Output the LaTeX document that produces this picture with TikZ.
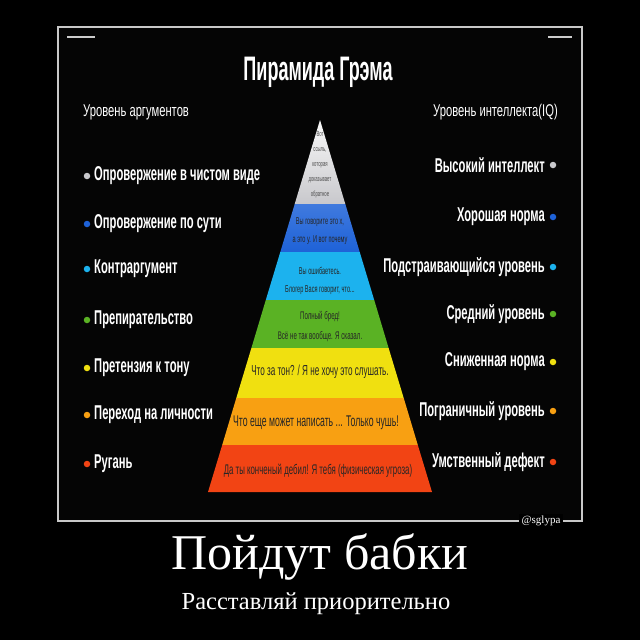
\documentclass[tikz,border=0pt]{standalone}
\usepackage{fontspec}
\setmainfont{Liberation Serif}
\newfontfamily\cond[FakeStretch=0.56]{Liberation Sans}
\newfontfamily\condt[FakeStretch=0.53]{Liberation Sans}
\newfontfamily\condn[FakeStretch=0.66]{Liberation Sans}
\definecolor{cgrey}{HTML}{C8C8CC}
\definecolor{cblue}{HTML}{1E62D8}
\definecolor{ccyan}{HTML}{1CB2EE}
\definecolor{cgreen}{HTML}{5AB224}
\definecolor{cyellow}{HTML}{F0E010}
\definecolor{corange}{HTML}{F8A012}
\definecolor{cred}{HTML}{F24414}
\definecolor{framegrey}{HTML}{C8C8C8}
\tikzset{
  lbl/.style={text=white, font=\cond\bfseries\fontsize{20}{20}\selectfont, inner sep=0pt},
  hdr/.style={text=white, font=\condn\fontsize{17}{17}\selectfont, inner sep=0pt},
  pyr/.style={text=black!85, font=\cond\fontsize{11}{11}\selectfont, inner sep=0pt, align=center},
  dot/.style={circle, inner sep=0pt, minimum size=6.5pt},
}
\begin{document}
\begin{tikzpicture}[x=1pt,y=-1pt]
\fill[black] (0,0) rectangle (640,640);
\useasboundingbox (0,0) rectangle (640,640);
\fill[black!98!white] (58,27) rectangle (582,521);
\draw[gray!40, line width=2pt] (67,37) -- (95,37);
\draw[gray!40, line width=2pt] (548,37) -- (572,37);
\draw[framegrey, line width=2pt] (57.5,27) rectangle (582,521);
\node[fill=black, text=white, font=\fontsize{11}{11}\selectfont, inner sep=2.5pt] (wm) at (541,521) {@sglypa};

% title and headers
\node[text=white, font=\condt\bfseries\fontsize{34}{34}\selectfont, inner sep=0pt] (title) at (318,72) {Пирамида Грэма};
\node[hdr, anchor=west] (hl) at (83,112) {Уровень аргументов};
\node[hdr, anchor=east] (hr) at (558,112) {Уровень интеллекта(IQ)};

% pyramid
\shade[top color=white!95!gray, bottom color=cgrey] (320,120) -- (345.3,204) -- (294.7,204) -- cycle;
\shade[top color=cblue!85!white, bottom color=cblue] (294.7,204) -- (345.3,204) -- (359.7,252) -- (280.3,252) -- cycle;
\fill[ccyan] (280.3,252) -- (359.7,252) -- (374.2,300) -- (265.8,300) -- cycle;
\fill[cgreen] (265.8,300) -- (374.2,300) -- (388.6,348) -- (251.4,348) -- cycle;
\fill[cyellow] (251.4,348) -- (388.6,348) -- (403.7,398) -- (236.3,398) -- cycle;
\fill[corange] (236.3,398) -- (403.7,398) -- (417.8,445) -- (222.2,445) -- cycle;
\fill[cred] (222.2,445) -- (417.8,445) -- (432,492) -- (208,492) -- cycle;

\node[pyr, font=\cond\fontsize{7.5}{15}\selectfont, text=black!70] (p1) at (320,165) {Вот\\ ссыль,\\ которая\\ доказывает\\ обратное};
\node[pyr, font=\cond\fontsize{10}{18}\selectfont] (p2) at (320,231) {Вы говорите это х,\\ а это у. И вот почему};
\node[pyr, font=\cond\fontsize{10}{18}\selectfont] (p3) at (320,281) {Вы ошибаетесь.\\ Блогер Вася говорит, что...};
\node[pyr, font=\cond\fontsize{11}{20}\selectfont] (p4) at (320,327) {Полный бред!\\ Всё не так вообще. Я сказал.};
\node[pyr, font=\cond\fontsize{14.5}{14}\selectfont] (p5) at (320,372) {Что за тон? / Я не хочу это слушать.};
\node[pyr, font=\cond\fontsize{15.5}{14}\selectfont] (p6) at (316,423) {Что еще может написать ... Только чушь!};
\node[pyr, font=\cond\fontsize{14}{14}\selectfont] (p7) at (318,471) {Да ты конченый дебил! Я тебя (физическая угроза)};

% left list
\node[dot, fill=cgrey] (ld1) at (87,176) {};
\node[dot, fill=cblue] (ld2) at (87,224) {};
\node[dot, fill=ccyan] (ld3) at (87,269) {};
\node[dot, fill=cgreen] (ld4) at (87,320) {};
\node[dot, fill=cyellow] (ld5) at (87,368) {};
\node[dot, fill=corange] (ld6) at (87,415) {};
\node[dot, fill=cred] (ld7) at (87,464) {};
\node[lbl, anchor=west] (l1) at (94,176) {Опровержение в чистом виде};
\node[lbl, anchor=west] (l2) at (94,224) {Опровержение по сути};
\node[lbl, anchor=west] (l3) at (94,269) {Контраргумент};
\node[lbl, anchor=west] (l4) at (94,320) {Препирательство};
\node[lbl, anchor=west] (l5) at (94,368) {Претензия к тону};
\node[lbl, anchor=west] (l6) at (94,415) {Переход на личности};
\node[lbl, anchor=west] (l7) at (94,464) {Ругань};

% right list
\node[dot, fill=cgrey] (rd1) at (553,165) {};
\node[dot, fill=cblue] (rd2) at (553,217) {};
\node[dot, fill=ccyan] (rd3) at (553,267) {};
\node[dot, fill=cgreen] (rd4) at (553,314) {};
\node[dot, fill=cyellow] (rd5) at (553,362) {};
\node[dot, fill=corange] (rd6) at (553,411) {};
\node[dot, fill=cred] (rd7) at (553,462) {};
\node[lbl, anchor=east] (r1) at (545,165) {Высокий интеллект};
\node[lbl, anchor=east] (r2) at (545,217) {Хорошая норма};
\node[lbl, anchor=east] (r3) at (545,267) {Подстраивающийся уровень};
\node[lbl, anchor=east] (r4) at (545,314) {Средний уровень};
\node[lbl, anchor=east] (r5) at (545,362) {Сниженная норма};
\node[lbl, anchor=east] (r6) at (545,411) {Пограничный уровень};
\node[lbl, anchor=east] (r7) at (545,462) {Умственный дефект};

% caption
\node[text=white, font=\fontsize{50}{50}\selectfont, inner sep=0pt] (cap1) at (320,557) {Пойдут бабки};
\node[text=white, font=\fontsize{24.5}{24.5}\selectfont, inner sep=0pt] (cap2) at (316,604) {Расставляй приорительно};
\end{tikzpicture}
\end{document}
